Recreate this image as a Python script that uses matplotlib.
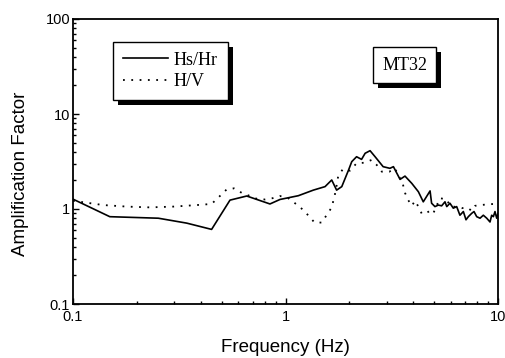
import matplotlib
matplotlib.use('Agg')
import matplotlib.pyplot as plt
import matplotlib.patheffects as pe
from matplotlib.ticker import LogLocator, FuncFormatter, NullFormatter

# Hs/Hr spectral ratio (site / reference)
hs_freq = [0.1, 0.149, 0.252, 0.343, 0.449, 0.548, 0.657, 0.845, 0.942, 1.149,
           1.352, 1.535, 1.65, 1.74, 1.84, 1.98, 2.05, 2.16, 2.28, 2.37,
           2.50, 2.64, 2.88, 3.10, 3.22, 3.46, 3.65, 3.93, 4.22, 4.45,
           4.79, 4.87, 5.05, 5.24, 5.43, 5.63, 5.74, 5.94, 6.16, 6.39,
           6.62, 6.87, 7.07, 7.25, 7.52, 7.71, 7.94, 8.23, 8.53, 8.85,
           9.17, 9.34, 9.51, 9.68, 9.86, 10.0]
hs_amp = [1.27, 0.83, 0.80, 0.71, 0.61, 1.24, 1.37, 1.13, 1.26, 1.38,
          1.58, 1.72, 2.02, 1.58, 1.72, 2.57, 3.15, 3.55, 3.33, 3.86,
          4.11, 3.55, 2.79, 2.68, 2.79, 2.05, 2.22, 1.86, 1.52, 1.19,
          1.55, 1.15, 1.06, 1.10, 1.08, 1.19, 1.06, 1.15, 1.02, 1.06,
          0.86, 0.94, 0.77, 0.83, 0.90, 0.94, 0.83, 0.80, 0.86, 0.80,
          0.73, 0.86, 0.83, 0.94, 0.80, 0.90]

# H/V ratio
hv_freq = [0.1, 0.139, 0.179, 0.230, 0.297, 0.382, 0.449, 0.488, 0.529, 0.572,
           0.622, 0.681, 0.74, 0.80, 0.87, 0.942, 1.03, 1.12, 1.21, 1.29,
           1.37, 1.48, 1.56, 1.65, 1.72, 1.77, 1.86, 2.01, 2.16, 2.35,
           2.54, 2.69, 2.84, 3.08, 3.27, 3.46, 3.56, 3.65, 3.78, 3.93,
           4.07, 4.22, 4.38, 4.54, 4.79, 4.96, 5.33, 5.74, 5.94, 6.75,
           7.12, 7.52, 7.80, 8.23, 9.51, 10.0]
hv_amp = [1.22, 1.10, 1.06, 1.04, 1.06, 1.10, 1.13, 1.35, 1.61, 1.65,
          1.48, 1.37, 1.27, 1.26, 1.30, 1.37, 1.30, 1.13, 0.98, 0.84,
          0.72, 0.72, 0.86, 1.04, 1.52, 2.22, 2.62, 2.53, 3.03, 3.07,
          3.28, 2.90, 2.47, 2.47, 2.68, 2.10, 1.86, 1.48, 1.24, 1.08,
          1.22, 1.06, 0.89, 0.89, 0.96, 0.90, 1.30, 1.26, 1.08, 1.02,
          1.04, 0.96, 1.08, 1.10, 1.13, 1.15]

station = 'MT32'

W, H = 506, 358
fig = plt.figure(figsize=(W / 100, H / 100), dpi=100)
ax = fig.add_axes([73 / W, 1 - 304 / H, 425 / W, 285 / H])

sans = 'Liberation Sans'
serif = 'Liberation Serif'

ax.plot(hs_freq, hs_amp, color='black', lw=1.2, label='Hs/Hr')
ax.plot(hv_freq, hv_amp, color='black', lw=1.3, linestyle=(0, (1, 3.6)),
        label='H/V')

ax.set_xscale('log')
ax.set_yscale('log')
ax.set_xlim(0.1, 10)
ax.set_ylim(0.1, 100)

fmt = FuncFormatter(lambda v, p: '%g' % v)
for axis in (ax.xaxis, ax.yaxis):
    axis.set_major_locator(LogLocator(base=10))
    axis.set_minor_locator(LogLocator(base=10, subs=range(2, 10)))
    axis.set_major_formatter(fmt)
    axis.set_minor_formatter(NullFormatter())

ax.tick_params(which='both', direction='in', top=False, right=False,
               width=1.0, labelsize=10.5)
ax.tick_params(axis='x', pad=4)
ax.tick_params(axis='y', pad=2)
ax.tick_params(which='major', length=4)
ax.tick_params(which='minor', length=2.2)
for lab in ax.get_xticklabels() + ax.get_yticklabels():
    lab.set_family(sans)
for s in ax.spines.values():
    s.set_linewidth(1.3)

ax.set_xlabel('Frequency (Hz)', family=sans, fontsize=13.5, labelpad=11)
ax.set_ylabel('Amplification Factor', family=sans, fontsize=13.5)
ax.yaxis.set_label_coords(-0.103, 0.456)

shadow = [pe.withSimplePatchShadow(offset=(3.6, -3.6), shadow_rgbFace='black',
                                   alpha=1.0)]

leg = ax.legend(loc='upper left', bbox_to_anchor=(113.3 / W, 1 - 41.7 / H),
                bbox_transform=fig.transFigure, borderaxespad=0,
                fancybox=False, edgecolor='black', framealpha=1,
                prop={'family': serif, 'size': 13},
                handlelength=2.5, handletextpad=0.3, borderpad=0.55,
                labelspacing=0.25)
leg.get_frame().set_linewidth(1.0)
leg.get_frame().set_path_effects(shadow)

txt = ax.text(404.7 / W, 1 - 65 / H, station, transform=fig.transFigure,
              ha='center', va='center', family=serif, fontsize=13,
              bbox=dict(boxstyle='square,pad=0.5', fc='white', ec='black',
                        lw=1.0))
txt.get_bbox_patch().set_path_effects(shadow)

fig.savefig('out.png', dpi=100)
